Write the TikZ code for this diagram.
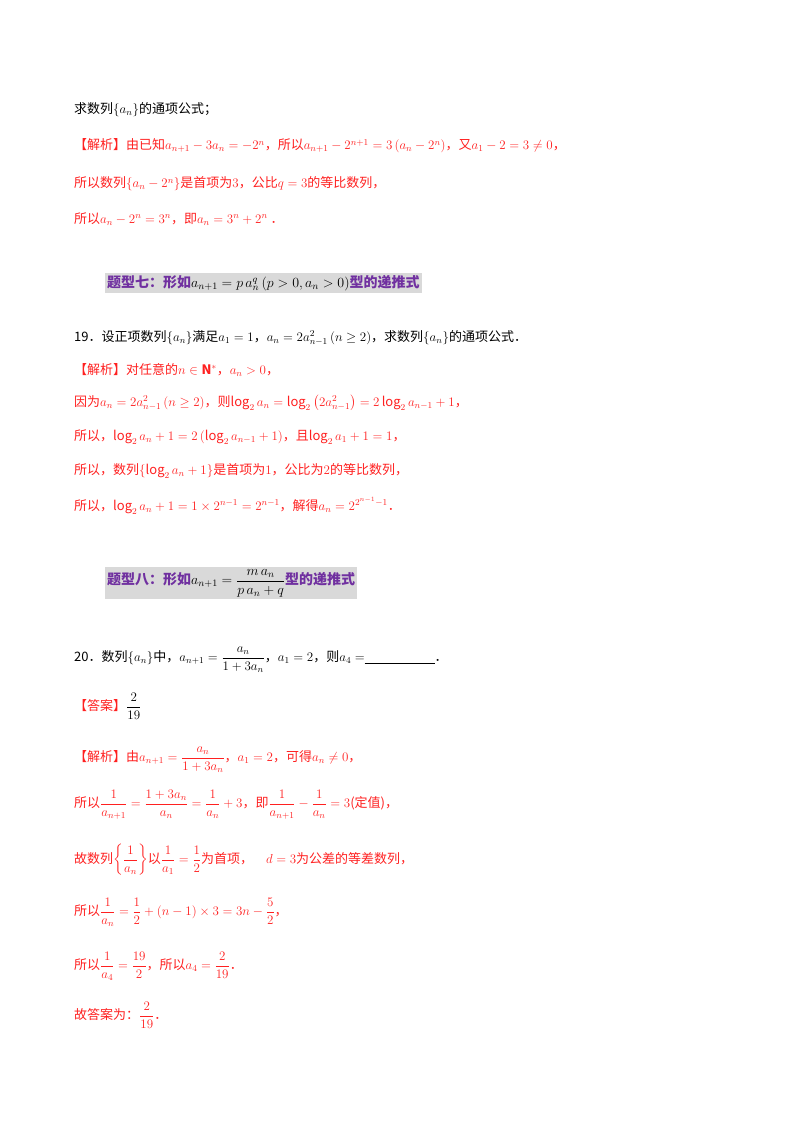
\RequirePackage{fix-cm}
\documentclass[tikz,border=0pt]{standalone}
\usepackage{amsmath,amssymb}
\usepackage{fontspec}
\setmainfont{Noto Sans CJK SC}
\definecolor{rd}{HTML}{FF2020}
\definecolor{pu}{HTML}{7030A0}
\begin{document}
\begin{tikzpicture}[x=1pt,y=-1pt,
  ln/.style={anchor=west,inner sep=0pt,font=\fontsize{13}{15}\selectfont},
  rl/.style={ln,text=rd},
  hd/.style={anchor=west,inner sep=2pt,fill=gray!30,text=pu,font=\fontsize{14}{16}\selectfont\bfseries}]
\useasboundingbox (0,0) rectangle (800,1132);
\node[ln] (l1) at (74,110) {求数列$\{a_n\}$的通项公式；};
\node[rl] (l2) at (74,146) {【解析】由已知$a_{n+1}-3a_n=-2^n$，所以$a_{n+1}-2^{n+1}=3\left(a_n-2^n\right)$，又$a_1-2=3\neq0$，};
\node[rl] (l3) at (74,184) {所以数列$\left\{a_n-2^n\right\}$是首项为$3$，公比$q=3$的等比数列，};
\node[rl] (l4) at (74,219) {所以$a_n-2^n=3^n$，即$a_n=3^n+2^n$\ ．};
\node[hd] (h7) at (105,283) {题型七：形如{\mdseries\color{black}$a_{n+1}=p\,a_n^q\,(p>0,a_n>0)$}型的递推式};
\node[ln] (q19) at (74,338) {19．设正项数列$\{a_n\}$满足$a_1=1$，$a_n=2a_{n-1}^2\,(n\geq2)$，求数列$\{a_n\}$的通项公式．};
\node[rl] (s1) at (74,370) {【解析】对任意的$n\in\mathbf{N}^*$，$a_n>0$，};
\node[rl] (s2) at (74,403) {因为$a_n=2a_{n-1}^2\,(n\geq2)$，则$\log_2a_n=\log_2\left(2a_{n-1}^2\right)=2\log_2a_{n-1}+1$，};
\node[rl] (s3) at (74,437) {所以，$\log_2a_n+1=2\left(\log_2a_{n-1}+1\right)$，且$\log_2a_1+1=1$，};
\node[rl] (s4) at (74,471) {所以，数列$\left\{\log_2a_n+1\right\}$是首项为$1$，公比为$2$的等比数列，};
\node[rl] (s5) at (74,506) {所以，$\log_2a_n+1=1\times2^{n-1}=2^{n-1}$，解得$a_n=2^{2^{n-1}-1}$．};
\node[hd] (h8) at (105,583) {题型八：形如{\mdseries\color{black}$a_{n+1}=\dfrac{m\,a_n}{p\,a_n+q}$}型的递推式};
\node[ln] (q20) at (74,660) {20．数列$\{a_n\}$中，$a_{n+1}=\dfrac{a_n}{1+3a_n}$，$a_1=2$，则$a_4=$\rule[-2pt]{70pt}{0.8pt}．};
\node[ln] (ans) at (74,706) {{\color{rd}【答案】}$\dfrac{2}{19}$};
\node[rl] (t1) at (74,760) {【解析】由$a_{n+1}=\dfrac{a_n}{1+3a_n}$，$a_1=2$，可得$a_n\neq0$，};
\node[rl] (t2) at (74,805) {所以$\dfrac{1}{a_{n+1}}=\dfrac{1+3a_n}{a_n}=\dfrac{1}{a_n}+3$，即$\dfrac{1}{a_{n+1}}-\dfrac{1}{a_n}=3$(定值)，};
\node[rl] (t3) at (74,860) {故数列$\left\{\dfrac{1}{a_n}\right\}$以$\dfrac{1}{a_1}=\dfrac12$为首项，\quad $d=3$为公差的等差数列，};
\node[rl] (t4) at (74,912) {所以$\dfrac{1}{a_n}=\dfrac12+(n-1)\times3=3n-\dfrac52$，};
\node[rl] (t5) at (74,966) {所以$\dfrac{1}{a_4}=\dfrac{19}{2}$，所以$a_4=\dfrac{2}{19}$．};
\node[rl] (t6) at (74,1015) {故答案为：$\dfrac{2}{19}$．};
\end{tikzpicture}
\end{document}
